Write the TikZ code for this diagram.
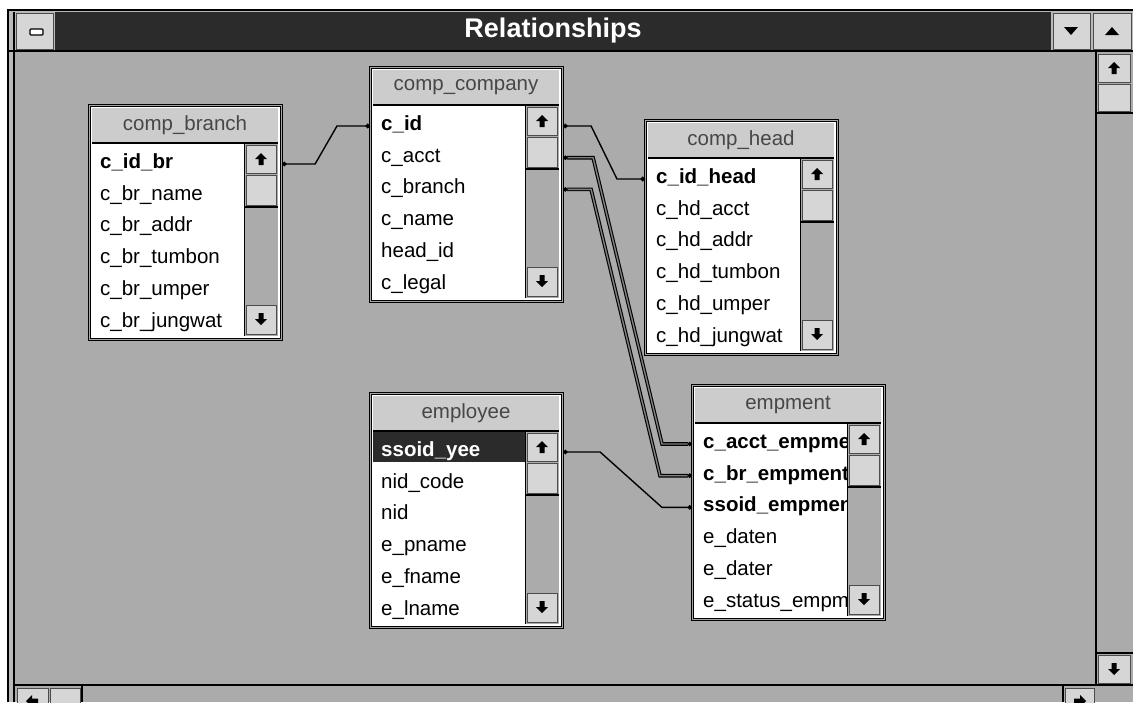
\documentclass[tikz,border=0pt]{standalone}
\usepackage{fontspec}
\setmainfont{Liberation Sans}
\usetikzlibrary{arrows.meta,calc}

\definecolor{deskgray}{gray}{0.67}
\definecolor{bandgray}{gray}{0.80}
\definecolor{btngray}{gray}{0.84}
\definecolor{barblack}{gray}{0.17}
\definecolor{titlegray}{gray}{0.28}

\tikzset{
  tblframe/.style={draw=black, line width=1.1pt, double=gray!70, double distance=1.6pt,
    fill=white, minimum width=192pt, minimum height=234pt, inner sep=0pt, anchor=north west},
  tbltitle/.style={font=\fontsize{20.5}{22}\selectfont, text=titlegray, inner sep=0pt},
  field/.style={font=\fontsize{20.5}{22}\selectfont, anchor=west, inner sep=0pt,
    text height=14pt, text depth=5pt},
  btn/.style={fill=btngray, draw=black!70, line width=0.8pt},
  link/.style={line width=1.4pt, {Circle[length=4.5pt]}-{Circle[length=4.5pt]}},
  twin/.style={link, double=gray, double distance=1.4pt, line width=1.1pt},
  uparr/.pic={\fill (0,-6) -- (6,0) -- (2.5,0) -- (2.5,6) -- (-2.5,6) -- (-2.5,0) -- (-6,0) -- cycle;},
  dnarr/.pic={\fill (0,6) -- (6,0) -- (2.5,0) -- (2.5,-6) -- (-2.5,-6) -- (-2.5,0) -- (-6,0) -- cycle;},
}

% table box: name, x, y, title
\newcommand\dbtable[4]{%
  \node[tblframe] (#1) at (#2,#3) {};
  \fill[bandgray] (#2+3,#3+3) rectangle (#2+189,#3+37);
  \node[tbltitle] (#1-title) at (#2+96,#3+20) {#4};
  \fill[deskgray] (#2+155,#3+38) rectangle (#2+189,#3+231);
  \draw[line width=1.2pt] (#2+3,#3+38) -- (#2+189,#3+38);
  \draw[line width=1pt] (#2+155,#3+38) -- (#2+155,#3+231);
  % scroll buttons
  \draw[btn] (#2+157,#3+40) rectangle (#2+187,#3+68);
  \pic at (#2+172,#3+54) {uparr};
  \draw[btn] (#2+157,#3+70) rectangle (#2+187,#3+100);
  \draw[line width=1.5pt] (#2+155,#3+102) -- (#2+189,#3+102);
  \draw[btn] (#2+157,#3+200) rectangle (#2+187,#3+229);
  \pic at (#2+172,#3+214) {dnarr};
}

% field rows: name, x, y, number of key rows, list
\newcommand\dbrows[5]{%
  \begin{scope}
    \clip (#2+3,#3+38) rectangle (#2+155,#3+231);
    \foreach \f [count=\i] in {#5} {
      \ifnum\i>#4 \def\rowfont{}\else\def\rowfont{\bfseries}\fi
      \node[field] (#1-\i) at (#2+11,{#3+59+31.7*(\i-1)}) {\rowfont\f};
    }
  \end{scope}
}

\begin{document}
\begin{tikzpicture}[x=1pt, y=-1pt]
  \clip (0,0) rectangle (1133,702);
  \fill[white] (0,0) rectangle (1133,702);
  % window
  \fill[gray!55] (8,10) rectangle (1133,702);
  \fill[deskgray] (15,52) rectangle (1133,702);
  \draw[line width=1.2pt] (8,702) -- (8,10) -- (1133,10);
  \draw[line width=1.2pt] (14,702) -- (14,12);
  % title bar
  \fill[barblack] (55,12) rectangle (1051,50);
  \node[font=\bfseries\fontsize{27}{30}\selectfont, text=white] (wintitle) at (553,31) {Relationships};
  \draw[btn] (16,13) rectangle (53,49);
  \draw[fill=white, line width=1.3pt, rounded corners=1pt] (30,29) rectangle (43,35);
  \draw[btn] (1053,13) rectangle (1090,49);
  \fill (1064,27) -- (1078,27) -- (1071,35) -- cycle;
  \draw[btn] (1093,13) rectangle (1131,49);
  \fill (1105,35) -- (1119,35) -- (1112,27) -- cycle;
  \draw[line width=2pt] (8,51) -- (1133,51);
  % vertical scroll bar
  \draw[line width=1.5pt] (1096,52) -- (1096,686);
  \draw[btn] (1098,54) rectangle (1130,82);
  \pic at (1114,68) {uparr};
  \draw[btn] (1098,84) rectangle (1130,111);
  \draw[line width=1.5pt] (1096,113) -- (1133,113);
  \draw[line width=1.5pt] (1096,653) -- (1133,653);
  \draw[btn] (1098,655) rectangle (1130,683);
  \pic at (1114,669) {dnarr};
  % horizontal scroll bar
  \draw[line width=1.5pt] (15,685) -- (1133,685);
  \draw[btn] (17,688) rectangle (48,706);
  \pic[rotate=90] at (32,701) {uparr};
  \draw[btn] (50,688) rectangle (80,706);
  \draw[line width=1.5pt] (82,686) -- (82,702);
  \draw[line width=1.5pt] (1063,686) -- (1063,702);
  \draw[btn] (1065,688) rectangle (1094,706);
  \pic[rotate=-90] at (1080,701) {uparr};

  % tables
  \dbtable{br}{89}{105}{comp\_branch}
  \dbrows{br}{89}{105}{1}{c\_id\_br, c\_br\_name, c\_br\_addr, c\_br\_tumbon, c\_br\_umper, c\_br\_jungwat}
  \dbtable{co}{370}{67}{comp\_company}
  \dbrows{co}{370}{67}{1}{c\_id, c\_acct, c\_branch, c\_name, head\_id, c\_legal}
  \dbtable{hd}{645}{120}{comp\_head}
  \dbrows{hd}{645}{120}{1}{c\_id\_head, c\_hd\_acct, c\_hd\_addr, c\_hd\_tumbon, c\_hd\_umper, c\_hd\_jungwat}
  \dbtable{ee}{370}{393}{employee}
  \fill[barblack] (373,432) rectangle (525,462);
  \dbrows{ee}{370}{393}{1}{\textcolor{white}{ssoid\_yee}, nid\_code, nid, e\_pname, e\_fname, e\_lname}
  \dbtable{em}{692}{385}{empment}
  \dbrows{em}{692}{385}{3}{c\_acct\_empme, c\_br\_empment, ssoid\_empment, e\_daten, e\_dater, e\_status\_empm}

  % relationships
  \draw[link] (br-1 -| br.east) -- ++(33,0) -- ($(co-1 -| co.west)+(-33,0)$) -- (co-1 -| co.west);
  \draw[link] (co-1 -| co.east) -- ++(28,0) -- ($(hd-1 -| hd.west)+(-28,0)$) -- (hd-1 -| hd.west);
  \draw[twin] (co-2 -| co.east) -- ++(30,0) -- ($(em-1 -| em.west)+(-30,0)$) -- (em-1 -| em.west);
  \draw[twin] (co-3 -| co.east) -- ++(28,0) -- ($(em-2 -| em.west)+(-32,0)$) -- (em-2 -| em.west);
  \draw[link] (ee-1 -| ee.east) -- ++(37,0) -- ($(em-3 -| em.west)+(-30,0)$) -- (em-3 -| em.west);
\end{tikzpicture}
\end{document}
